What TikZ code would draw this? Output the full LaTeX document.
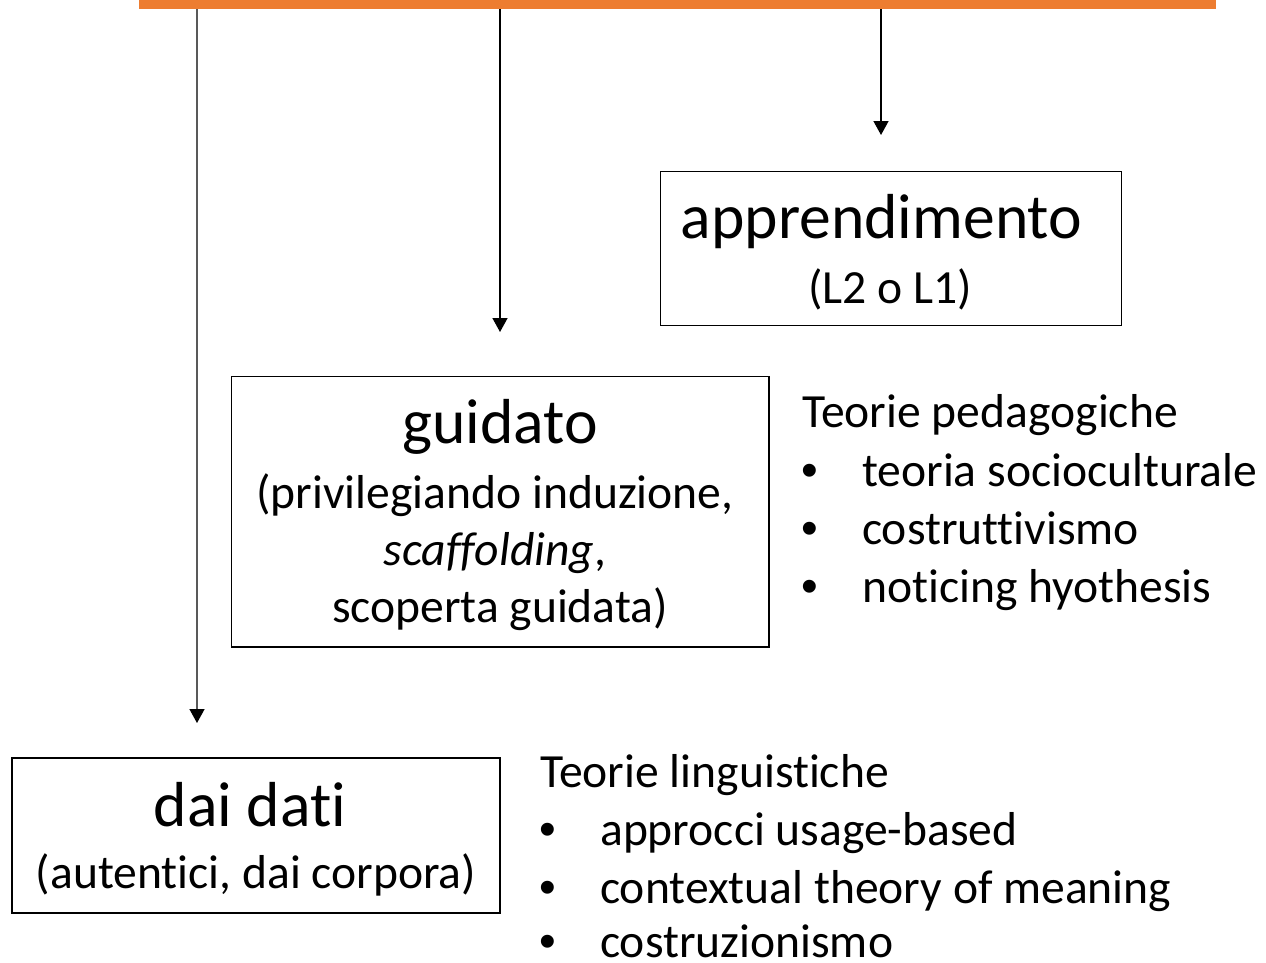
\documentclass[tikz,border=0pt]{standalone}
\usepackage{fontspec}
\setmainfont[Ligatures={NoCommon}]{Carlito}
\newfontfamily\bulletfont{Liberation Sans}
\usetikzlibrary{arrows.meta}
\definecolor{barorange}{HTML}{ED7D31}
\definecolor{linegray}{HTML}{595959}
\begin{document}
\begin{tikzpicture}[x=1pt,y=-1pt,
  box/.style={draw=black,line width=1.4pt,inner sep=0pt,outer sep=0pt},
  big/.style={anchor=base,inner sep=0pt,font=\fontsize{63.6}{70}\selectfont},
  sub/.style={anchor=base,inner sep=0pt,font=\fontsize{47.6}{57}\selectfont},
  lst/.style={anchor=base west,inner sep=0pt,font=\fontsize{47.6}{57}\selectfont},
  bul/.style={anchor=base west,inner sep=0pt,font=\bulletfont\fontsize{47.6}{57}\selectfont},
  arr/.style={line width=1.5pt,-{Triangle[width=15pt,length=14pt,color=black]}}]
\useasboundingbox (0,0) rectangle (1266,962);
% top bar
\node[fill=barorange,inner sep=0pt,outer sep=0pt,minimum width=1077pt,minimum height=9pt,anchor=north west] (bar) at (139,0) {};
% boxes
\node[box,minimum width=461pt,minimum height=154pt] (appr) at (891,248.5) {};
\node[box,minimum width=537.5pt,minimum height=270.5pt] (guid) at (500.25,511.75) {};
\node[box,minimum width=488pt,minimum height=155pt] (dati) at (256,835.5) {};
% box texts
\node[big] (t1) at (881.5,238) {apprendimento};
\node[sub] (t1s) at (890,303) {(L2 o L1)};
\node[big] (t2) at (500,443) {guidato};
\node[sub] (t2a) at (495,508) {(privilegiando induzione,};
\node[sub] (t2b) at (495,565) {\textit{scaffolding},};
\node[sub] (t2c) at (500,622) {scoperta guidata)};
\node[big] (t3) at (250,826) {dai dati};
\node[sub] (t3s) at (256,888) {(autentici, dai corpora)};
% lists
\node[lst] (p0) at (802,427) {Teorie pedagogiche};
\node[bul] (pb1) at (801,486) {•};
\node[lst] (p1) at (862,486) {teoria socioculturale};
\node[bul] (pb2) at (801,544) {•};
\node[lst] (p2) at (862,544) {costruttivismo};
\node[bul] (pb3) at (801,602) {•};
\node[lst] (p3) at (862,602) {noticing hyothesis};
\node[lst] (l0) at (540,787) {Teorie linguistiche};
\node[bul] (lb1) at (539,845) {•};
\node[lst] (l1) at (600,845) {approcci usage-based};
\node[bul] (lb2) at (539,903) {•};
\node[lst] (l2) at (600,903) {contextual theory of meaning};
\node[bul] (lb3) at (539,957) {•};
\node[lst] (l3) at (600,957) {costruzionismo};
% arrows
\coordinate (e1) at (197,723);
\coordinate (e2) at (500,332);
\coordinate (e3) at (881,135);
\draw[arr,draw=linegray] (bar.south -| e1) -- (e1);
\draw[arr] (bar.south -| e2) -- (e2);
\draw[arr] (bar.south -| e3) -- (e3);
\end{tikzpicture}
\end{document}
